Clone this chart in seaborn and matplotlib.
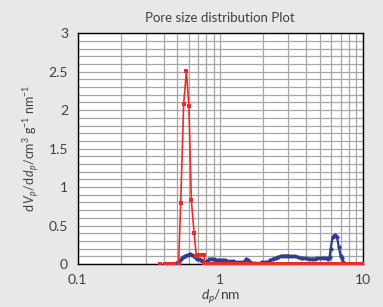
import pandas as pd
import seaborn as sns
import matplotlib.pyplot as plt
from matplotlib.ticker import FixedLocator, MultipleLocator, NullFormatter

# --- dados ---
red_dp = [0.376, 0.41, 0.43, 0.45, 0.475, 0.51, 0.528, 0.554, 0.579, 0.603, 0.627, 0.656,
          0.68, 0.695, 0.71, 0.725, 0.74, 0.755, 0.77, 0.775,
          0.79, 0.82, 0.85, 0.88, 0.91, 0.94, 0.97, 1.0, 1.04, 1.08, 1.12, 1.16, 1.2, 1.25,
          1.3, 1.35, 1.4, 1.45, 1.5, 1.56, 1.62, 1.68, 1.75, 1.82, 1.9, 1.98, 2.06, 2.15,
          2.24, 2.34, 2.44, 2.55, 2.66, 2.78, 2.9, 3.03, 3.16, 3.3, 3.45, 3.6, 3.76, 3.93,
          4.1, 4.28, 4.47, 4.67, 4.88, 5.1, 5.33, 5.57, 5.82, 6.08, 6.35, 6.63, 6.93, 7.24,
          7.56, 7.9, 8.25, 8.62, 9.0, 9.4, 9.8, 10.0]
red_dv = [0, 0, 0, 0, 0, 0, 0.79, 2.08, 2.51, 2.05, 0.83, 0.40,
          0.10, 0.12, 0.12, 0.12, 0.12, 0.12, 0.12, 0.0,
          0, 0, 0, 0, 0, 0, 0, 0, 0, 0, 0, 0, 0, 0,
          0, 0, 0, 0, 0, 0, 0, 0, 0, 0, 0, 0, 0, 0,
          0, 0, 0, 0, 0, 0, 0, 0, 0, 0, 0, 0, 0, 0,
          0, 0, 0, 0, 0, 0, 0, 0, 0, 0, 0, 0, 0, 0,
          0, 0, 0, 0, 0, 0, 0, 0]

blue_dp = [0.47, 0.49, 0.51, 0.53, 0.55, 0.57, 0.59, 0.61, 0.63, 0.65, 0.67, 0.69, 0.71,
           0.73, 0.75, 0.77, 0.79, 0.81, 0.84, 0.87, 0.9, 0.93, 0.97, 1.0, 1.04, 1.08,
           1.12, 1.17, 1.22, 1.27, 1.33, 1.4, 1.46, 1.52, 1.57, 1.62, 1.68, 1.75, 1.82,
           1.9, 1.98, 2.06, 2.15, 2.25, 2.35, 2.45, 2.56, 2.68, 2.8, 2.93, 3.06, 3.2,
           3.35, 3.5, 3.66, 3.83, 4.0, 4.2, 4.4, 4.6, 4.8, 5.0, 5.25, 5.5, 5.7, 5.85,
           5.96, 6.15, 6.35, 6.6, 6.8, 7.0, 7.1, 7.3, 7.5, 7.9, 8.3, 8.7, 9.1, 9.5, 10.0]
blue_dv = [0.0, 0.01, 0.03, 0.06, 0.09, 0.11, 0.12, 0.13, 0.12, 0.11, 0.09, 0.07, 0.06,
           0.05, 0.04, 0.03, 0.02, 0.04, 0.06, 0.07, 0.06, 0.05, 0.055, 0.05, 0.055, 0.05,
           0.04, 0.035, 0.04, 0.03, 0.02, 0.02, 0.03, 0.06, 0.05, 0.02, 0.01, 0.01, 0.0,
           0.01, 0.03, 0.02, 0.03, 0.05, 0.07, 0.08, 0.095, 0.105, 0.11, 0.11, 0.105, 0.10,
           0.105, 0.09, 0.08, 0.075, 0.075, 0.07, 0.07, 0.07, 0.075, 0.075, 0.08, 0.08, 0.07, 0.09,
           0.2, 0.35, 0.38, 0.35, 0.22, 0.10, 0.08, 0.03, 0.0, 0.0, 0.0, 0.0, 0.0, 0.0, 0.0]

x_ticks = [0.1, 1, 10]
x_tick_labels = ['0.1', '1', '10']
y_ticks = [0, 0.5, 1, 1.5, 2, 2.5, 3]
y_tick_labels = ['0', '0.5', '1', '1.5', '2', '2.5', '3']

sns.set_style('white')
plt.rcParams['font.family'] = ['Lato', 'DejaVu Sans']
plt.rcParams['mathtext.fontset'] = 'custom'
plt.rcParams['mathtext.rm'] = 'Lato'
plt.rcParams['mathtext.it'] = 'Lato:italic'

bg = '#e7e8e9'
fig = plt.figure(figsize=(3.83, 3.07), dpi=100, facecolor=bg)
ax = fig.add_axes([0.203, 0.140, 0.744, 0.752])
ax.set_facecolor('white')

df_blue = pd.DataFrame({'dp': blue_dp, 'dv': blue_dv})
df_red = pd.DataFrame({'dp': red_dp, 'dv': red_dv})

sns.lineplot(data=df_blue, x='dp', y='dv', ax=ax, color='#2b3f8e', marker='o',
             markersize=3, markeredgewidth=0, linewidth=1.6, sort=False, zorder=3)
sns.lineplot(data=df_red, x='dp', y='dv', ax=ax, color='#ee2b2b', marker='s',
             markersize=3.2, markeredgewidth=0, linewidth=1.2, sort=False, zorder=4)

ax.set_xscale('log')
ax.set_xlim(0.1, 10)
ax.set_ylim(0, 3)
ax.xaxis.set_major_locator(FixedLocator(x_ticks))
ax.set_xticklabels(x_tick_labels)
ax.xaxis.set_minor_locator(FixedLocator([m * d for d in (0.1, 1) for m in range(2, 10)]))
ax.xaxis.set_minor_formatter(NullFormatter())
ax.yaxis.set_major_locator(FixedLocator(y_ticks))
ax.set_yticklabels(y_tick_labels)
ax.yaxis.set_minor_locator(MultipleLocator(0.1))
ax.set_xlabel('')
ax.set_ylabel('')

ax.grid(True, which='both', color='#a6a6a6', linewidth=0.9)
ax.tick_params(which='both', length=0, labelsize=10, labelcolor='#404040', pad=7)
for s in ax.spines.values():
    s.set_color('black')
    s.set_linewidth(1.0)

ax.set_title('Pore size distribution Plot', fontsize=9.5, color='#404040', pad=8)
ax.set_xlabel(r'$d_p$/nm', fontsize=10, color='#404040', labelpad=1)
ax.set_ylabel(r'd$\,V_p$/d$\,d_p$/cm$^3$ g$^{-1}$ nm$^{-1}$', fontsize=9, color='#404040', labelpad=5)

plt.savefig('out.png', dpi=100, facecolor=bg)
